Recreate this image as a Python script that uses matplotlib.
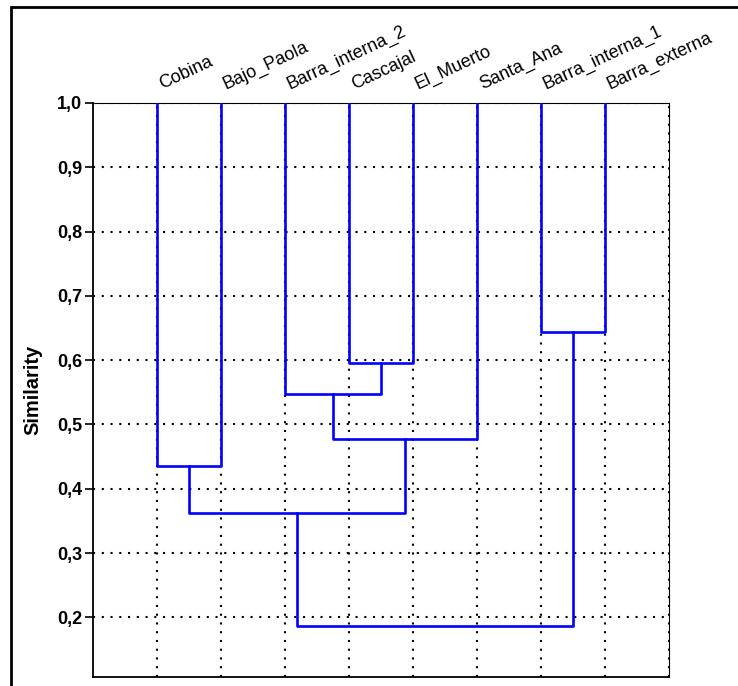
import matplotlib
matplotlib.use("Agg")
import matplotlib.pyplot as plt
from matplotlib.patches import Rectangle

# ---- data ----
leaves = ['Cobina', 'Bajo_Paola', 'Barra_interna_2', 'Cascajal', 'El_Muerto',
          'Santa_Ana', 'Barra_interna_1', 'Barra_externa']
# merges: new cluster ids start at len(leaves)
merge_a = [3, 2, 9, 0, 11, 6, 12]
merge_b = [4, 8, 5, 1, 10, 7, 13]
merge_sim = [0.595, 0.547, 0.477, 0.435, 0.362, 0.644, 0.187]
yticks = [0.2, 0.3, 0.4, 0.5, 0.6, 0.7, 0.8, 0.9, 1.0]
ytick_labels = ['0,2', '0,3', '0,4', '0,5', '0,6', '0,7', '0,8', '0,9', '1,0']

plt.rcParams['font.family'] = ['Liberation Sans', 'DejaVu Sans']

W, H = 738, 686
fig = plt.figure(figsize=(W / 100, H / 100), dpi=100)
ax = fig.add_axes([93 / W, 1 - 677 / H, (669 - 93) / W, (677 - 103) / H])

ax.set_xlim(0, len(leaves) + 1)
ax.set_ylim(0.1073, 1.0)

# grid
dots = dict(color='black', linewidth=1.5, linestyle=(0, (1, 3.2)), zorder=1)
for y in yticks:
    ax.plot([0, len(leaves) + 1], [y, y], **dots)
for x in list(range(1, len(leaves) + 1)) + [len(leaves) + 1]:
    ax.plot([x, x], [0.1073, 1.0], **dots)

# dendrogram
pos = {i: float(i + 1) for i in range(len(leaves))}
top = {i: 1.0 for i in range(len(leaves))}
blue = dict(color='#0000ff', linewidth=1.9, solid_capstyle='projecting', zorder=3)
for k, (a, b, s) in enumerate(zip(merge_a, merge_b, merge_sim)):
    cid = len(leaves) + k
    ax.plot([pos[a], pos[a], pos[b], pos[b]], [top[a], s, s, top[b]], **blue)
    pos[cid] = (pos[a] + pos[b]) / 2
    top[cid] = s

# leaf labels
for i, name in enumerate(leaves):
    ax.annotate(name, xy=(pos[i], 1.0), xycoords='data',
                xytext=(5, 14), textcoords='offset pixels',
                rotation=25, rotation_mode='anchor', ha='left', va='baseline',
                fontsize=13, annotation_clip=False)

ax.set_xticks([])
ax.set_yticks(yticks)
ax.set_yticklabels(ytick_labels, fontsize=13, fontweight='bold')
ax.tick_params(axis='y', direction='out', length=6, width=1.2, pad=2)
ax.set_ylabel('Similarity', fontsize=14.5, fontweight='bold', labelpad=10)

for side in ['left', 'bottom']:
    ax.spines[side].set_linewidth(1.3)
for side in ['top', 'right']:
    ax.spines[side].set_linewidth(0.8)

# outer frame
fig.patches.append(Rectangle((11 / W, -0.1), 1.2, 1 - 7 / H + 0.1,
                             transform=fig.transFigure, fill=False,
                             edgecolor='black', linewidth=2))

fig.savefig('out.png', dpi=100)
